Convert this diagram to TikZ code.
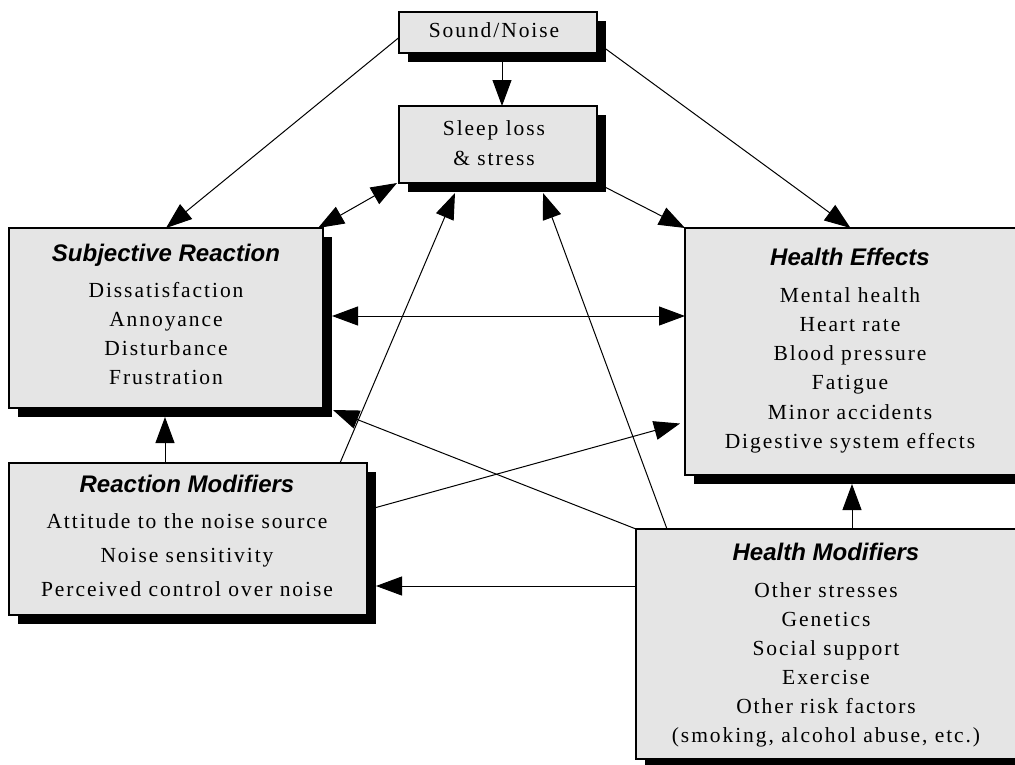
\documentclass[tikz,border=0pt]{standalone}
\usepackage{fontspec}
\setmainfont{Liberation Serif}[LetterSpace=9]
\newfontfamily\headfont{Liberation Sans}
\usetikzlibrary{arrows.meta,shadows,calc}
\definecolor{boxgray}{RGB}{229,229,229}
\newcommand\hd[1]{{\headfont\bfseries\itshape\fontsize{24}{29}\selectfont\rule{0pt}{25pt}#1}}
\begin{document}
\begin{tikzpicture}[x=1pt,y=-1pt,
  box/.style={draw=black, line width=1.2pt, fill=boxgray, rectangle, inner sep=0pt, outer sep=0pt,
    drop shadow={shadow xshift=9pt, shadow yshift=-9pt, fill=black, opacity=1}},
  body/.style={inner sep=0pt, outer sep=0pt, align=center, font=\fontsize{21.5}{29}\selectfont},
  conn/.style={line width=1pt, -{Triangle[length=26pt,width=19pt]}},
  conntwo/.style={line width=1pt, {Triangle[length=26pt,width=19pt]}-{Triangle[length=26pt,width=19pt]}}]
\useasboundingbox (0,0) rectangle (1015,764);
% boxes
\node[box, minimum width=198pt, minimum height=41pt] (snd) at (498,32.5) {};
\node[box, minimum width=198pt, minimum height=77pt] (slp) at (498,144.5) {};
\node[box, minimum width=314pt, minimum height=180pt] (sr) at (166,318) {};
\node[box, minimum width=358pt, minimum height=152pt] (rm) at (188,539) {};
\node[box, minimum width=335pt, minimum height=247pt] (he) at (852.5,351.5) {};
\node[box, minimum width=384pt, minimum height=230pt] (hm) at (828,644) {};
% texts
\node[body, anchor=base] (sndT) at (494,37) {Sound/Noise};
\node[body, anchor=north, font=\fontsize{21.5}{30}\selectfont] (slpT) at (494,115) {\rule{0pt}{20pt}Sleep loss\\ \& stress};
\node[body, anchor=north] (srT) at (166,236) {\hd{Subjective Reaction}\\[7pt] Dissatisfaction\\ Annoyance\\ Disturbance\\ Frustration};
\node[body, anchor=north, font=\fontsize{21.5}{29.2}\selectfont] (heT) at (850,240) {\hd{Health Effects}\\[8pt] Mental health\\ Heart rate\\ Blood pressure\\ Fatigue\\ Minor accidents\\ Digestive system effects};
\node[body, anchor=north, font=\fontsize{21.5}{34}\selectfont] (rmT) at (187,467) {\hd{Reaction Modifiers}\\[2pt] Attitude to the noise source\\ Noise sensitivity\\ Perceived control over noise};
\node[body, anchor=north] (hmT) at (826,535) {\hd{Health Modifiers}\\[8pt] Other stresses\\ Genetics\\ Social support\\ Exercise\\ Other risk factors\\ (smoking, alcohol abuse, etc.)};
% connectors
\draw[conn] ($(snd.west)+(0,5)$) -- (sr.north);
\draw[conn] ($(snd.south)+(4,0)$) -- ($(slp.north)+(4,0)$);
\draw[conn] ($(snd.east)+(0,10)$) -- ($(he.north)+(-2,0)$);
\draw[conntwo] ($(slp.south west)+(-2,0)$) -- ($(sr.north east)+(-5,0)$);
\draw[conn] (slp.south east) -- (he.north west);
\draw[conn] ($(rm.north east)+(-27,0)$) -- ($(slp.south)+(-43,10)$);
\draw[conn] ($(hm.north west)+(31,0)$) -- ($(slp.south)+(45,10)$);
\draw[conntwo] ($(sr.east)+(9,-2)$) -- ($(sr.east -| he.west)+(0,-2)$);
\draw[conn] ($(rm.north)+(-23,0)$) -- ($(sr.south)+(-1,9)$);
\draw[conn] ($(rm.east)+(0,-29)$) -- ($(he.west)+(-5,72)$);
\draw[conn] (hm.north west) -- ($(sr.south east)+(10,2)$);
\draw[conn] ($(hm.west)+(0,-58)$) -- ($(hm.west -| rm.east)+(9,-58)$);
\draw[conn] ($(hm.north)+(24,0)$) -- ($(he.south)+(-0.5,9)$);
\end{tikzpicture}
\end{document}
